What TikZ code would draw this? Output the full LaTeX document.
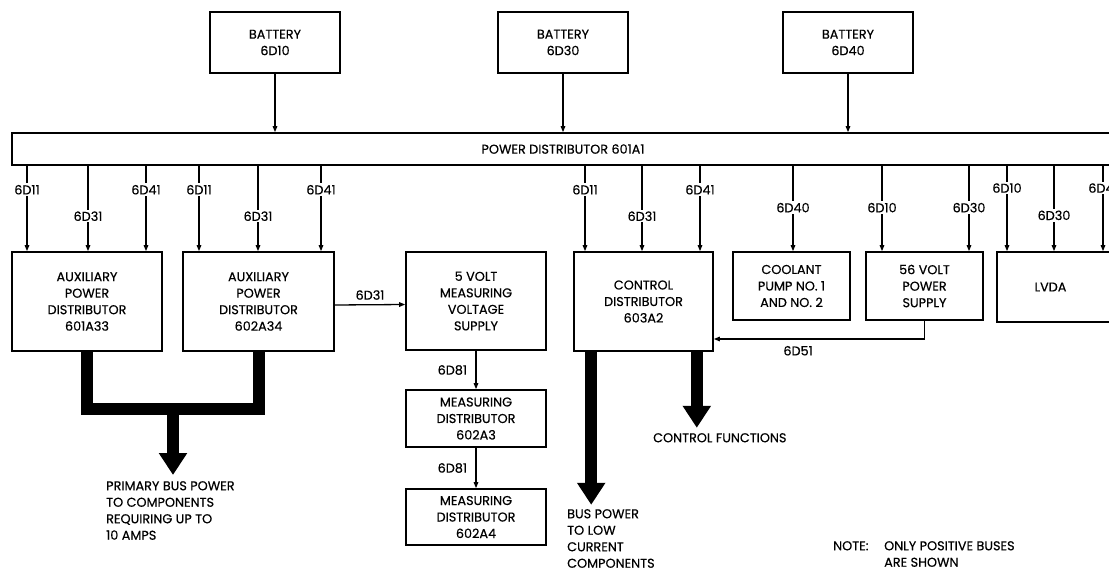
\documentclass[tikz,border=0pt]{standalone}
\usepackage{fontspec}
\setmainfont{Poppins}[FakeBold=0.4]
\usetikzlibrary{arrows.meta}

\begin{document}
\begin{tikzpicture}[x=1pt, y=-1pt,
  font=\fontsize{12.8}{16.5}\selectfont,
  box/.style={draw, line width=1.6pt, align=center, inner sep=0pt},
  wire/.style={-{Triangle[length=6pt,width=4.5pt]}, line width=1.3pt},
  lab/.style={fill=white, inner sep=1.5pt},
  bus/.style={line width=12pt},
  busarrow/.style={-{Triangle[length=22pt,width=27pt]}, line width=12pt},
  note/.style={align=left, anchor=north west, inner sep=0pt}]

  \clip (0,0) rectangle (1109,572);

  % --- batteries (row 0) ---
  \node[box, minimum width=130pt, minimum height=61pt] (b10) at (275,42.5)  {BATTERY\\6D10};
  \node[box, minimum width=130pt, minimum height=61pt] (b30) at (563,42.5)  {BATTERY\\6D30};
  \node[box, minimum width=130pt, minimum height=61pt] (b40) at (848,42.5)  {BATTERY\\6D40};

  % --- power distributor bar (row 1) ---
  \node[box, minimum width=1102pt, minimum height=32pt] (pd) at (563,149) {POWER DISTRIBUTOR 601A1};

  % --- loads (row 2) ---
  \node[box, minimum width=150pt, minimum height=99pt] (aux1) at (87,301.5)
    {AUXILIARY\\POWER\\DISTRIBUTOR\\601A33};
  \node[box, minimum width=151pt, minimum height=99pt] (aux2) at (258.5,301.5)
    {AUXILIARY\\POWER\\DISTRIBUTOR\\602A34};
  \node[box, minimum width=140pt, minimum height=98pt] (v5) at (476,301)
    {5 VOLT\\MEASURING\\VOLTAGE\\SUPPLY};
  \node[box, minimum width=139pt, minimum height=99pt] (ctrl) at (643.5,301.5)
    {CONTROL\\DISTRIBUTOR\\603A2};
  \node[box, minimum width=117pt, minimum height=68pt] (pump) at (791.5,286)
    {COOLANT\\PUMP NO. 1\\AND NO. 2};
  \node[box, minimum width=117pt, minimum height=68pt] (v56) at (924.5,286)
    {56 VOLT\\POWER\\SUPPLY};
  \node[box, minimum width=123pt, minimum height=70pt,
        label={[xshift=-8pt]center:LVDA}] (lvda) at (1058.5,287) {};

  % --- measuring chain ---
  \node[box, minimum width=140pt, minimum height=57pt] (m3) at (476,418.5)
    {MEASURING\\DISTRIBUTOR\\602A3};
  \node[box, minimum width=140pt, minimum height=56pt] (m4) at (476,517)
    {MEASURING\\DISTRIBUTOR\\602A4};

  % --- battery feeds ---
  \draw[wire] (b10) -- (b10 |- pd.north);
  \draw[wire] (b30) -- (b30 |- pd.north);
  \draw[wire] (b40) -- (b40 |- pd.north);

  % --- bus branches ---
  \foreach \x/\lab/\p/\dst in {27/6D11/0.28/aux1, 88/6D31/0.59/aux1, 146/6D41/0.28/aux1,
      199/6D11/0.28/aux2, 258/6D31/0.59/aux2, 321/6D41/0.28/aux2,
      585/6D11/0.28/ctrl, 642/6D31/0.59/ctrl, 700/6D41/0.28/ctrl,
      793/6D40/0.49/pump, 882/6D10/0.49/v56, 969/6D30/0.49/v56,
      1007/6D10/0.26/lvda, 1054/6D30/0.58/lvda, 1103/6D41/0.26/lvda}{
    \coordinate (t) at (\x,0);
    \draw[wire] (pd.south -| t) -- node[lab, pos=\p] {\lab} (\dst.north -| t);
  }

  % --- secondary feeds ---
  \draw[wire] ([yshift=-3.5pt]aux2.east) -- node[above=1pt] {6D31} ([yshift=-3.5pt]v5.west);
  \draw[wire] (v5) -- node[left=5pt] {6D81} (m3);
  \draw[wire] (m3) -- node[left=5pt] {6D81} (m4);
  \draw[wire] (v56.south) |- node[pos=0.8, below=3pt] {6D51} ([yshift=-37.5pt]ctrl.east);

  % --- heavy bus outputs ---
  \coordinate (jn) at (173,409);
  \draw[bus] (aux1.south) |- (jn) -| (aux2.south);
  \draw[busarrow] (jn) -- ++(0,66);
  \draw[busarrow] ([xshift=18pt]ctrl.south west) -- ++(0,153);
  \draw[busarrow] ([xshift=-17pt]ctrl.south east) -- ++(0,76);

  % --- captions ---
  \node[note] (prim) at (106,481) {PRIMARY BUS POWER\\TO COMPONENTS\\REQUIRING UP TO\\10 AMPS};
  \node[note] (lowc) at (567,509) {BUS POWER\\TO LOW\\CURRENT\\COMPONENTS};
  \node[note] (cfun) at (653,433) {CONTROL FUNCTIONS};
  \node[note] (nt) at (833,541)
    {\makebox[51pt][l]{NOTE:}ONLY POSITIVE BUSES\\\hspace*{51pt}ARE SHOWN};
\end{tikzpicture}
\end{document}
